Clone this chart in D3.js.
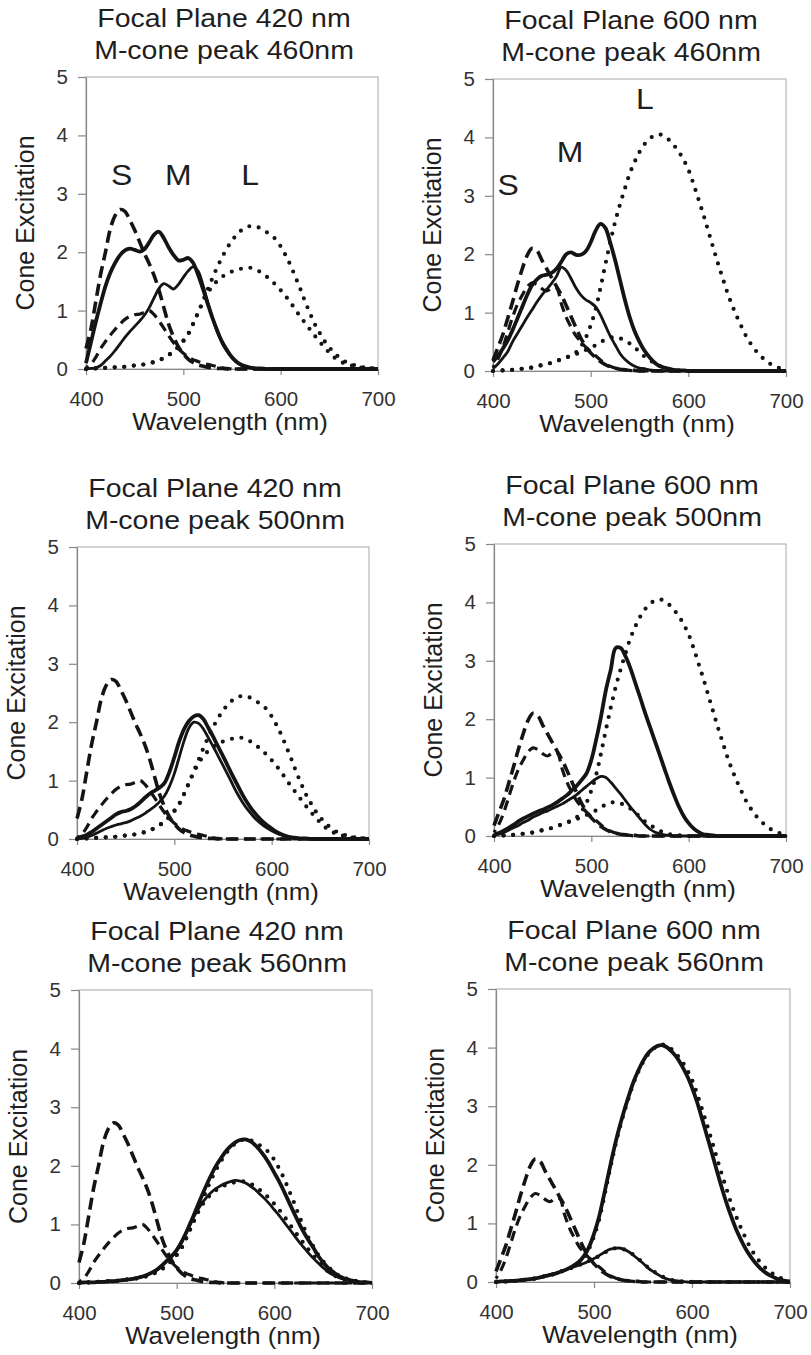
<!DOCTYPE html>
<html>
<head>
<meta charset="utf-8">
<script src="https://cdn.jsdelivr.net/npm/d3@7"></script>
<style>
  body { margin: 0; background: #fff; }
  svg { display: block; font-family: "Liberation Sans", Arial, sans-serif; }
</style>
</head>
<body>
<svg id="chart" width="811" height="1355"></svg>
<script>
// Sampling grid (nm)
const wavelengths = [
  400,405,410,415,420,425,430,435,440,445,
  450,455,460,465,470,475,480,485,490,495,
  500,505,510,515,520,525,530,535,540,545,
  550,555,560,565,570,575,580,585,590,595,
  600,605,610,615,620,625,630,635,640,645,
  650,655,660,665,670,675,680,685,690,695,
  700
];

// Tick labels
const xTicks = [400, 500, 600, 700];
const yTicks = [0, 1, 2, 3, 4, 5];

// Panel headings
const focalPlanes = ["420", "600", "420", "600", "420", "600"];
const mConePeaks  = ["460", "460", "500", "500", "560", "560"];

// S-cone excitation (dashed), per focal plane
const sThick420 = [
  0.35,0.68,1.15,1.62,2.00,2.40,2.63,2.73,2.70,2.55,
  2.38,2.18,1.98,1.80,1.60,1.35,1.05,0.76,0.55,0.38,
  0.26,0.17,0.11,0.07,0.05,0.03,0.02,0.01,0.01,0,
  0,0,0,0,0,0,0,0,0,0,
  0,0,0,0,0,0,0,0,0,0,
  0,0,0,0,0,0,0,0,0,0,
  0
];
const sThin420 = [
  0.02,0.08,0.20,0.35,0.47,0.58,0.68,0.77,0.85,0.90,
  0.93,0.94,0.97,1.00,0.93,0.82,0.70,0.57,0.45,0.35,
  0.27,0.21,0.16,0.13,0.10,0.08,0.06,0.04,0.02,0.01,
  0,0,0,0,0,0,0,0,0,0,
  0,0,0,0,0,0,0,0,0,0,
  0,0,0,0,0,0,0,0,0,0,
  0
];
const sThick600 = [
  0.18,0.40,0.62,0.90,1.18,1.48,1.75,1.98,2.10,2.06,
  1.90,1.75,1.60,1.45,1.30,1.12,0.93,0.74,0.56,0.42,
  0.31,0.23,0.16,0.11,0.07,0.05,0.03,0.02,0.01,0.01,
  0,0,0,0,0,0,0,0,0,0,
  0,0,0,0,0,0,0,0,0,0,
  0,0,0,0,0,0,0,0,0,0,
  0
];
const sThin600 = [
  0.06,0.20,0.40,0.66,0.92,1.14,1.30,1.44,1.51,1.48,
  1.41,1.37,1.42,1.42,1.15,0.92,0.75,0.60,0.50,0.41,
  0.33,0.26,0.19,0.12,0.08,0.05,0.03,0.02,0.01,0,
  0,0,0,0,0,0,0,0,0,0,
  0,0,0,0,0,0,0,0,0,0,
  0,0,0,0,0,0,0,0,0,0,
  0
];

// L-cone excitation (dotted), per focal plane
const lThick420 = [
  0,0.01,0.01,0.01,0.02,0.02,0.03,0.03,0.04,0.05,
  0.06,0.07,0.08,0.10,0.12,0.15,0.19,0.24,0.30,0.38,
  0.48,0.60,0.77,0.96,1.16,1.36,1.56,1.75,1.92,2.07,
  2.20,2.30,2.38,2.43,2.45,2.44,2.40,2.35,2.29,2.22,
  2.10,1.95,1.78,1.58,1.38,1.16,0.96,0.77,0.62,0.48,
  0.37,0.28,0.20,0.14,0.10,0.07,0.05,0.03,0.02,0.01,
  0.01
];
const lThin420 = [
  0,0.01,0.01,0.01,0.02,0.02,0.03,0.03,0.04,0.05,
  0.06,0.07,0.08,0.10,0.12,0.15,0.19,0.24,0.30,0.38,
  0.48,0.60,0.77,0.96,1.14,1.30,1.42,1.51,1.58,1.63,
  1.67,1.70,1.72,1.74,1.73,1.70,1.65,1.59,1.52,1.44,
  1.35,1.25,1.14,1.02,0.90,0.79,0.68,0.57,0.47,0.37,
  0.28,0.20,0.14,0.10,0.07,0.05,0.03,0.02,0.01,0.01,
  0
];
const lThick600 = [
  0,0.01,0.01,0.02,0.02,0.03,0.04,0.05,0.06,0.08,
  0.10,0.12,0.14,0.17,0.20,0.23,0.27,0.32,0.42,0.57,
  0.78,1.05,1.42,1.82,2.20,2.55,2.85,3.12,3.38,3.58,
  3.75,3.88,3.97,4.03,4.05,4.03,3.96,3.87,3.76,3.62,
  3.45,3.22,2.96,2.70,2.42,2.14,1.86,1.60,1.34,1.12,
  0.92,0.74,0.57,0.44,0.33,0.24,0.17,0.11,0.07,0.04,
  0.02
];
const lThin600 = [
  0,0.01,0.01,0.02,0.02,0.03,0.04,0.05,0.06,0.08,
  0.10,0.12,0.14,0.17,0.20,0.23,0.26,0.29,0.32,0.36,
  0.40,0.44,0.49,0.54,0.57,0.58,0.56,0.52,0.47,0.40,
  0.33,0.25,0.19,0.14,0.09,0.06,0.03,0.02,0.01,0.01,
  0,0,0,0,0,0,0,0,0,0,
  0,0,0,0,0,0,0,0,0,0,
  0
];

// M-cone excitation (solid), one pair per panel
const mThick420_460 = [
  0.10,0.45,0.80,1.12,1.42,1.65,1.82,1.95,2.03,2.06,
  2.04,2.01,2.05,2.17,2.30,2.35,2.24,2.08,1.95,1.86,
  1.87,1.90,1.82,1.62,1.38,1.12,0.87,0.65,0.46,0.32,
  0.20,0.12,0.07,0.04,0.02,0.01,0.01,0,0,0,
  0,0,0,0,0,0,0,0,0,0,
  0,0,0,0,0,0,0,0,0,0,
  0
];
const mThin420_460 = [
  0,0.01,0.02,0.06,0.14,0.22,0.32,0.43,0.54,0.64,
  0.73,0.82,0.92,1.05,1.22,1.38,1.46,1.42,1.37,1.45,
  1.57,1.68,1.75,1.68,1.45,1.15,0.87,0.63,0.44,0.30,
  0.19,0.11,0.06,0.03,0.02,0.01,0,0,0,0,
  0,0,0,0,0,0,0,0,0,0,
  0,0,0,0,0,0,0,0,0,0,
  0
];
const mThick600_460 = [
  0.16,0.26,0.38,0.52,0.70,0.90,1.10,1.30,1.47,1.57,
  1.63,1.65,1.68,1.75,1.87,2.00,2.03,1.99,1.99,2.05,
  2.20,2.40,2.52,2.45,2.20,1.90,1.56,1.22,0.92,0.68,
  0.50,0.35,0.24,0.15,0.09,0.06,0.04,0.02,0.01,0.01,
  0,0,0,0,0,0,0,0,0,0,
  0,0,0,0,0,0,0,0,0,0,
  0
];
const mThin600_460 = [
  0.04,0.12,0.22,0.33,0.50,0.64,0.78,0.92,1.05,1.18,
  1.30,1.40,1.50,1.62,1.78,1.72,1.58,1.42,1.30,1.22,
  1.17,1.10,0.96,0.78,0.60,0.45,0.30,0.20,0.13,0.08,
  0.05,0.04,0.02,0.01,0.01,0,0,0,0,0,
  0,0,0,0,0,0,0,0,0,0,
  0,0,0,0,0,0,0,0,0,0,
  0
];
const mThick420_500 = [
  0.02,0.04,0.07,0.12,0.18,0.24,0.30,0.36,0.42,0.46,
  0.48,0.51,0.56,0.63,0.71,0.78,0.83,0.88,0.96,1.15,
  1.40,1.67,1.88,2.02,2.10,2.12,2.05,1.90,1.75,1.58,
  1.42,1.25,1.08,0.92,0.76,0.62,0.50,0.40,0.31,0.24,
  0.18,0.12,0.08,0.05,0.03,0.02,0.01,0.01,0,0,
  0,0,0,0,0,0,0,0,0,0,
  0
];
const mThin420_500 = [
  0,0.01,0.03,0.06,0.10,0.14,0.18,0.21,0.24,0.26,
  0.28,0.31,0.35,0.39,0.44,0.50,0.56,0.64,0.74,0.90,
  1.12,1.40,1.68,1.90,2.00,1.98,1.88,1.73,1.58,1.42,
  1.26,1.10,0.93,0.77,0.63,0.51,0.41,0.32,0.25,0.19,
  0.14,0.10,0.07,0.04,0.03,0.02,0.01,0.01,0,0,
  0,0,0,0,0,0,0,0,0,0,
  0
];
const mThick600_500 = [
  0.02,0.05,0.09,0.14,0.19,0.25,0.30,0.34,0.38,0.42,
  0.45,0.49,0.53,0.58,0.64,0.70,0.78,0.86,0.96,1.07,
  1.30,1.65,2.05,2.50,2.85,3.22,3.22,3.08,2.88,2.63,
  2.38,2.12,1.88,1.64,1.40,1.16,0.92,0.70,0.50,0.34,
  0.22,0.13,0.07,0.03,0.02,0.01,0,0,0,0,
  0,0,0,0,0,0,0,0,0,0,
  0
];
const mThin600_500 = [
  0.01,0.03,0.06,0.10,0.14,0.18,0.23,0.27,0.32,0.36,
  0.40,0.43,0.47,0.51,0.55,0.60,0.65,0.71,0.78,0.85,
  0.92,0.98,1.02,1.00,0.92,0.82,0.72,0.61,0.50,0.40,
  0.30,0.20,0.12,0.07,0.04,0.02,0.01,0,0,0,
  0,0,0,0,0,0,0,0,0,0,
  0,0,0,0,0,0,0,0,0,0,
  0
];
const mThick420_560 = [
  0,0.01,0.01,0.01,0.02,0.02,0.03,0.03,0.04,0.05,
  0.06,0.07,0.09,0.11,0.14,0.18,0.23,0.30,0.38,0.46,
  0.56,0.70,0.87,1.06,1.26,1.46,1.65,1.83,1.99,2.12,
  2.24,2.33,2.40,2.44,2.45,2.42,2.36,2.27,2.16,2.03,
  1.88,1.73,1.56,1.38,1.20,1.03,0.87,0.73,0.60,0.46,
  0.35,0.26,0.19,0.13,0.09,0.06,0.04,0.02,0.01,0.01,
  0
];
const mThin420_560 = [
  0,0.01,0.01,0.01,0.02,0.02,0.03,0.03,0.04,0.05,
  0.06,0.07,0.09,0.11,0.14,0.18,0.23,0.30,0.38,0.46,
  0.56,0.70,0.87,1.04,1.20,1.34,1.45,1.54,1.61,1.66,
  1.70,1.73,1.75,1.74,1.71,1.66,1.60,1.52,1.44,1.35,
  1.25,1.15,1.04,0.93,0.82,0.71,0.61,0.51,0.42,0.34,
  0.26,0.19,0.14,0.10,0.07,0.05,0.03,0.02,0.01,0.01,
  0
];
const mThick600_560 = [
  0,0.01,0.01,0.02,0.02,0.03,0.04,0.05,0.06,0.08,
  0.10,0.12,0.14,0.17,0.20,0.24,0.29,0.35,0.45,0.60,
  0.82,1.10,1.47,1.86,2.24,2.58,2.88,3.15,3.40,3.60,
  3.77,3.90,3.98,4.03,4.04,4.00,3.92,3.82,3.68,3.52,
  3.32,3.08,2.80,2.51,2.22,1.92,1.63,1.36,1.12,0.90,
  0.72,0.56,0.43,0.32,0.23,0.16,0.11,0.07,0.04,0.02,
  0.01
];
const mThin600_560 = [
  0,0.01,0.01,0.02,0.02,0.03,0.04,0.05,0.06,0.08,
  0.10,0.12,0.14,0.17,0.20,0.23,0.26,0.29,0.32,0.36,
  0.40,0.45,0.50,0.55,0.57,0.58,0.56,0.52,0.46,0.39,
  0.32,0.24,0.18,0.13,0.08,0.05,0.03,0.02,0.01,0,
  0,0,0,0,0,0,0,0,0,0,
  0,0,0,0,0,0,0,0,0,0,
  0
];

// Cone letters (only in the two top panels): text, wavelength, excitation at baseline
const coneLabelText = ["S", "M", "L"];
const coneLabelWl   = [[436.6, 494.8, 568.5], [415.4, 478.8, 555.6]];
const coneLabelVal  = [[3.15, 3.15, 3.15], [3.01, 3.58, 4.49]];

// ---- layout ----
const boxes = [
  { left: 86,  top: 77,  width: 292, height: 292 },
  { left: 493, top: 79,  width: 293, height: 292 },
  { left: 77,  top: 547, width: 292, height: 292 },
  { left: 494, top: 544, width: 292, height: 292 },
  { left: 79,  top: 990, width: 293, height: 293 },
  { left: 496, top: 989, width: 294, height: 293 }
];

const sSets = { "420": [sThick420, sThin420], "600": [sThick600, sThin600] };
const lSets = { "420": [lThick420, lThin420], "600": [lThick600, lThin600] };
const mSets = [
  [mThick420_460, mThin420_460],
  [mThick600_460, mThin600_460],
  [mThick420_500, mThin420_500],
  [mThick600_500, mThin600_500],
  [mThick420_560, mThin420_560],
  [mThick600_560, mThin600_560]
];

const ink = "#141414";
const svg = d3.select("#chart");

// widen a text horizontally around its anchor point
function stretch(sel, k) {
  sel.each(function () {
    const t = d3.select(this);
    const x = +t.attr("x"), y = +t.attr("y");
    t.attr("x", 0).attr("y", 0)
     .attr("transform", `translate(${x},${y}) scale(${k},1)`);
  });
}

boxes.forEach((b, i) => {
  const g = svg.append("g").attr("transform", `translate(${b.left},${b.top})`);
  const x = d3.scaleLinear().domain([400, 700]).range([0, b.width]);
  const y = d3.scaleLinear().domain([0, 5]).range([b.height, 0]);

  // plot frame
  g.append("rect")
    .attr("x", 0).attr("y", 0)
    .attr("width", b.width).attr("height", b.height)
    .attr("fill", "none").attr("stroke", "#a8a8a8").attr("stroke-width", 1);

  // axes
  const yAxis = g.append("g")
    .call(d3.axisLeft(y).tickValues(yTicks).tickFormat(d3.format("d"))
      .tickSize(8).tickSizeOuter(0).tickPadding(10));
  const xAxis = g.append("g").attr("transform", `translate(0,${b.height})`)
    .call(d3.axisBottom(x).tickValues(xTicks).tickFormat(d3.format("d"))
      .tickSize(6).tickSizeOuter(0).tickPadding(16));
  [yAxis, xAxis].forEach(a => {
    a.select(".domain").attr("stroke", "#888").attr("stroke-width", 1.2);
    a.selectAll(".tick line").attr("stroke", "#888").attr("stroke-width", 1.2);
    a.selectAll(".tick text")
      .attr("fill", "#333").attr("font-size", 20.5)
      .attr("font-family", "'Liberation Sans', Arial, sans-serif");
  });

  // titles
  const t1 = g.append("text").attr("x", 138).attr("y", -50)
    .attr("text-anchor", "middle").attr("font-size", 25).attr("fill", "#1e1e1e")
    .text(`Focal Plane ${focalPlanes[i]} nm`);
  const t2 = g.append("text").attr("x", 138).attr("y", -18)
    .attr("text-anchor", "middle").attr("font-size", 25).attr("fill", "#1e1e1e")
    .text(`M-cone peak ${mConePeaks[i]}nm`);
  stretch(t1, 1.14);
  stretch(t2, 1.14);

  // axis titles
  const xl = g.append("text").attr("x", 144).attr("y", b.height + 61)
    .attr("text-anchor", "middle").attr("font-size", 23.5).attr("fill", "#1e1e1e")
    .text("Wavelength (nm)");
  stretch(xl, 1.1);
  g.append("text")
    .attr("transform", `translate(-52,${b.height / 2}) rotate(-90)`)
    .attr("text-anchor", "middle").attr("font-size", 25).attr("fill", "#1e1e1e")
    .text("Cone Excitation");

  const line = d3.line()
    .x((d, j) => x(wavelengths[j]))
    .y(d => y(d))
    .curve(d3.curveCatmullRom.alpha(0.5));

  const curves = g.append("g").attr("fill", "none").attr("stroke", ink)
    .attr("stroke-linejoin", "round");

  // L cones: dotted
  lSets[focalPlanes[i]].forEach(vals => {
    curves.append("path").attr("d", line(vals))
      .attr("stroke-width", 4.2).attr("stroke-linecap", "round")
      .attr("stroke-dasharray", "0,9.6");
  });
  // S cones: dashed
  sSets[focalPlanes[i]].forEach((vals, k) => {
    curves.append("path").attr("d", line(vals))
      .attr("stroke-width", k === 0 ? 3.6 : 3.2)
      .attr("stroke-dasharray", k === 0 ? "12,6" : "10,6")
      .attr("stroke-dashoffset", k === 0 ? 0 : 7);
  });
  // M cones: solid
  mSets[i].forEach((vals, k) => {
    curves.append("path").attr("d", line(vals))
      .attr("stroke-width", k === 0 ? 3.8 : 2.8);
  });

  // S / M / L letters
  if (i < 2) {
    coneLabelText.forEach((txt, k) => {
      const lab = g.append("text")
        .attr("x", x(coneLabelWl[i][k])).attr("y", y(coneLabelVal[i][k]))
        .attr("text-anchor", "middle").attr("font-size", 29).attr("fill", "#1e1e1e")
        .text(txt);
      stretch(lab, 1.1);
    });
  }
});
</script>
</body>
</html>
